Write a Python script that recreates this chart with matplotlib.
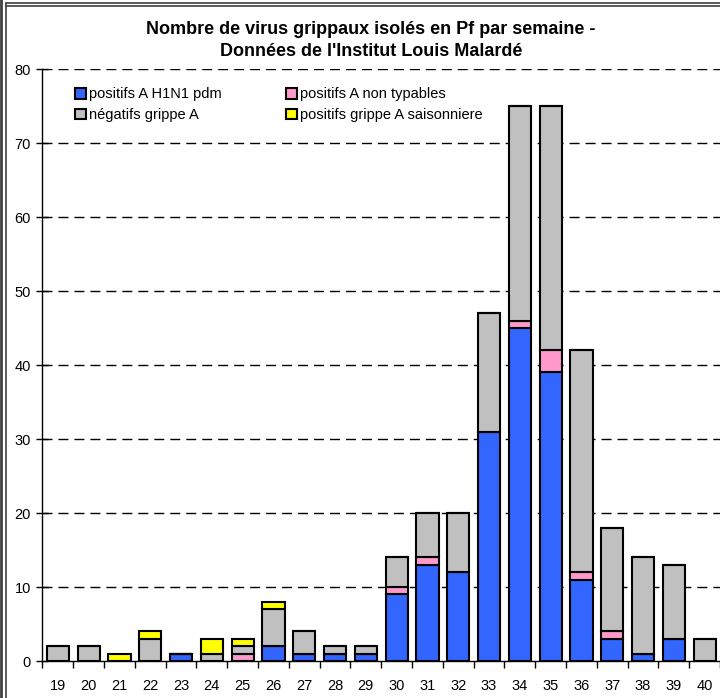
import matplotlib.pyplot as plt
import numpy as np
from matplotlib.lines import Line2D

plt.rcParams['font.family'] = ['Liberation Sans', 'DejaVu Sans']

# Weekly counts of flu viruses (Institut Louis Malardé)
weeks = [19, 20, 21, 22, 23, 24, 25, 26, 27, 28, 29, 30, 31, 32, 33, 34, 35, 36, 37, 38, 39, 40]
h1n1 = [0, 0, 0, 0, 1, 0, 0, 2, 1, 1, 1, 9, 13, 12, 31, 45, 39, 11, 3, 1, 3, 0]
non_typables = [0, 0, 0, 0, 0, 0, 1, 0, 0, 0, 0, 1, 1, 0, 0, 1, 3, 1, 1, 0, 0, 0]
negatifs = [2, 2, 0, 3, 0, 1, 1, 5, 3, 1, 1, 4, 6, 8, 16, 29, 33, 30, 14, 13, 10, 3]
saisonniere = [0, 0, 1, 1, 0, 2, 1, 1, 0, 0, 0, 0, 0, 0, 0, 0, 0, 0, 0, 0, 0, 0]

labels = ['positifs A H1N1 pdm', 'positifs A non typables',
          'négatifs grippe A', 'positifs grippe A saisonniere']
colors = ['#3366FF', '#FF99CC', '#C0C0C0', '#FFFF00']

fig = plt.figure(figsize=(7.2, 6.98), dpi=100)
ax = fig.add_axes([0.0583, 0.053, 1 - 0.0583, 0.848])

x = np.array(weeks)
bottom = np.zeros(len(weeks))
bars = []
for vals, col, lab in zip([h1n1, non_typables, negatifs, saisonniere], colors, labels):
    vals = np.array(vals)
    b = ax.bar(x, vals, 0.72, bottom=bottom, color=col, edgecolor='black',
               linewidth=1.5, label=lab, zorder=3)
    bars.append(b)
    bottom = bottom + vals

ax.set_xlim(18.483, 40.39)
ax.set_ylim(0, 80)
ax.set_yticks(range(0, 81, 10))
for yv in range(10, 81, 10):
    ax.axhline(yv, color='black', linestyle=(0, (7.2, 4.3)), linewidth=1, zorder=1)

ax.set_xticks(weeks)
ax.set_xticks(np.arange(18.5, 41, 1), minor=True)
ax.tick_params(axis='x', which='major', length=0, pad=13, labelsize=10.5)
ax.tick_params(axis='x', which='minor', length=5, direction='out', width=1)
ax.tick_params(axis='y', length=8, direction='inout', width=1, labelsize=10.5, pad=4)

for s in ['top', 'right']:
    ax.spines[s].set_visible(False)
for s in ['left', 'bottom']:
    ax.spines[s].set_linewidth(1)

fig.text(0.515, 0.958, 'Nombre de virus grippaux isolés en Pf par semaine -',
         ha='center', va='center', fontsize=13, fontweight='bold')
fig.text(0.515, 0.926, "Données de l'Institut Louis Malardé",
         ha='center', va='center', fontsize=13, fontweight='bold')

handles = [bars[0], bars[2], bars[1], bars[3]]
leg_labels = [labels[0], labels[2], labels[1], labels[3]]
fig.legend(handles, leg_labels, ncol=2, frameon=False, fontsize=10.5,
           loc='upper left', bbox_to_anchor=(0.096, 0.883),
           handlelength=0.75, handleheight=0.75, handletextpad=0.2,
           columnspacing=4.4, labelspacing=0.45, borderaxespad=0)

# window frame lines around the chart
fig.add_artist(Line2D([0.002, 0.002], [0, 1], color='#404040', linewidth=2, transform=fig.transFigure))
fig.add_artist(Line2D([0.009, 0.009], [0, 0.994], color='#404040', linewidth=1.2, transform=fig.transFigure))
fig.add_artist(Line2D([0.009, 1], [0.996, 0.996], color='#404040', linewidth=1.2, transform=fig.transFigure))
fig.add_artist(Line2D([0.009, 1], [0.991, 0.991], color='#404040', linewidth=1.2, transform=fig.transFigure))

fig.savefig('out.png', dpi=100)
